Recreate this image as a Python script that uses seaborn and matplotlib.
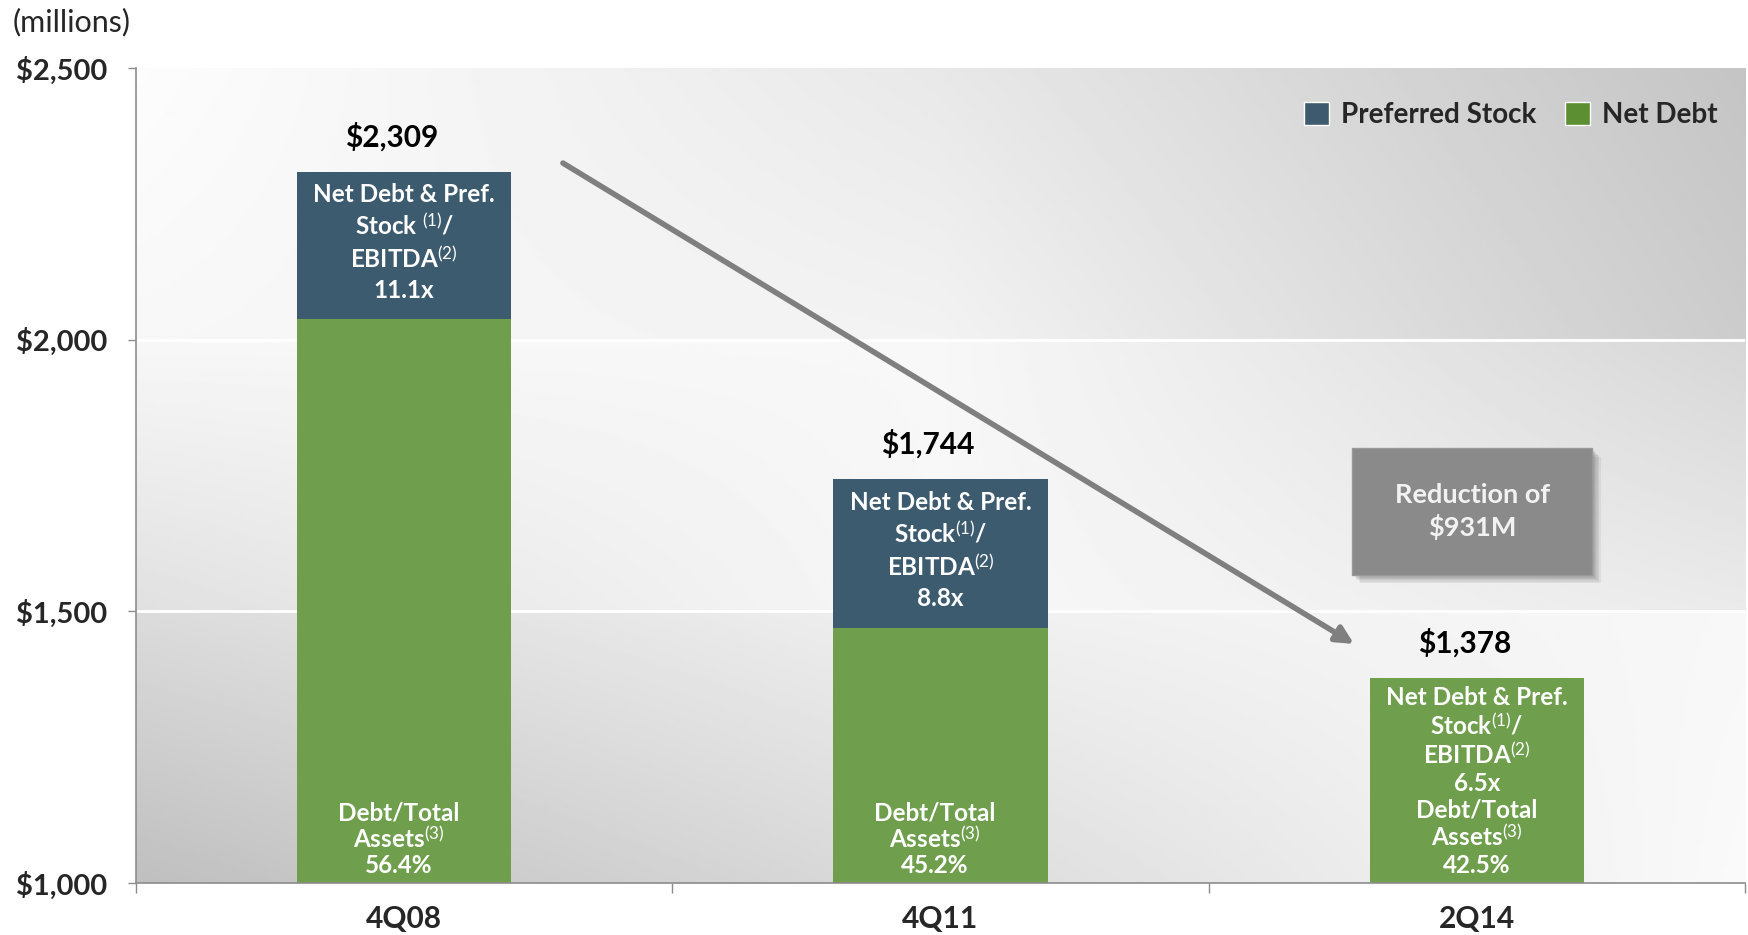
import numpy as np
import pandas as pd
import seaborn as sns
import matplotlib.pyplot as plt
import matplotlib.patheffects as pe
from matplotlib.patches import Patch, FancyArrowPatch, Rectangle

# values (millions)
quarters = ['4Q08', '4Q11', '2Q14']
net_debt = [2038, 1470, 1378]
pref_stock = [271, 274, 0]
ebitda_ratio = ['11.1x', '8.8x', '6.5x']
debt_assets = ['56.4%', '45.2%', '42.5%']
y_ticks = [1000, 1500, 2000, 2500]
y_tick_labels = ['$1,000', '$1,500', '$2,000', '$2,500']
reduction_text = 'Reduction of\n\\$931M'

navy = '#3d5b6f'
green = '#6f9f4c'
legend_navy = '#3d5a6f'
legend_green = '#5b8f32'

sns.set_theme(style='white')
plt.rcParams['font.family'] = ['Lato', 'DejaVu Sans']
plt.rcParams['mathtext.fontset'] = 'custom'
plt.rcParams['mathtext.rm'] = 'Lato'
plt.rcParams['mathtext.it'] = 'Lato:italic'
plt.rcParams['mathtext.bf'] = 'Lato:bold'

df = pd.DataFrame({'quarter': quarters, 'net': net_debt, 'pref': pref_stock})
df['total'] = df['net'] + df['pref']

fig = plt.figure(figsize=(17.48, 9.35), dpi=100)
ax = fig.add_axes([0.0778, 0.0556, 0.9205, 0.8717])

# stacked bars: total in navy, net debt drawn over it in green
sns.barplot(data=df, x='quarter', y='total', color=navy, width=0.4, linewidth=0,
            saturation=1, errorbar=None, ax=ax, zorder=2)
sns.barplot(data=df, x='quarter', y='net', color=green, width=0.4, linewidth=0,
            saturation=1, errorbar=None, ax=ax, zorder=2)

# grey gradient background, one gradient per grid band
# (top edge L/C/R, bottom edge L/C/R)
bands = [
    ([0.86, 0.94, 0.97], [0.75, 0.86, 0.98]),   # 1000-1500
    ([0.97, 0.97, 0.84], [0.88, 0.97, 0.92]),   # 1500-2000
    ([0.99, 0.91, 0.77], [0.97, 0.95, 0.80]),   # 2000-2500
]
nx, ny = 400, 120
u = np.linspace(0, 1, nx)
v = np.linspace(0, 1, ny)[:, None]
rows = []
for top, bot in bands:
    t = np.interp(u, [0, 0.5, 1], top)
    b = np.interp(u, [0, 0.5, 1], bot)
    rows.append((1 - v) * b + v * t)
img = np.vstack(rows)
ax.imshow(img, cmap='gray', vmin=0, vmax=1, origin='lower', aspect='auto',
          extent=(-0.5, 2.5, 1000, 2500), zorder=0, interpolation='bilinear')
for y in [1500, 2000]:
    ax.axhline(y, color='white', lw=2, zorder=1)

ax.set_xlim(-0.5, 2.5)
ax.set_ylim(1000, 2500)

# axes styling
for s in ['top', 'right']:
    ax.spines[s].set_visible(False)
for s in ['left', 'bottom']:
    ax.spines[s].set_color('#8c8c8c')
    ax.spines[s].set_linewidth(1.2)
    ax.spines[s].set_zorder(3)
ax.set_yticks(y_ticks)
ax.set_yticklabels(y_tick_labels, fontsize=21, fontweight='bold')
ax.tick_params(axis='y', left=True, length=6, width=1, color='#8c8c8c', pad=15)
ax.set_xticks(range(len(quarters)))
ax.set_xticklabels(quarters, fontsize=21.5, fontweight='bold')
ax.set_xticks([-0.5, 0.5, 1.5, 2.5], minor=True)
ax.tick_params(axis='x', which='major', length=0, pad=16)
ax.tick_params(axis='x', which='minor', bottom=True, length=7, width=1, color='#8c8c8c')
ax.set_xlabel('')
ax.set_ylabel('')

# value labels above bars
for i, t in enumerate(df['total']):
    ax.annotate(f'${t:,}', (i, t), xytext=(-9, 25), textcoords='offset points',
                ha='center', va='center', fontsize=21.5, fontweight='bold', color='black')

# ratio text inside bars
for i in range(len(quarters)):
    gap = ' ' if i == 0 else ''
    ebitda_txt = ('Net Debt & Pref.\nStock' + gap + r'$^{\mathrm{(1)}}$/' + '\n'
                  + r'EBITDA$^{\mathrm{(2)}}$' + '\n' + ebitda_ratio[i])
    assets_txt = 'Debt/Total\n' + r'Assets$^{\mathrm{(3)}}$' + '\n' + debt_assets[i]
    if pref_stock[i] > 0:
        ax.annotate(ebitda_txt, (i, net_debt[i] + pref_stock[i] / 2), xytext=(0, 2),
                    textcoords='offset points', ha='center', va='center',
                    color='white', fontsize=17.5, fontweight='bold', linespacing=1.33, zorder=3)
        ax.annotate(assets_txt, (i, 1000), xytext=(-4, 4), textcoords='offset points',
                    ha='center', va='bottom', color='white', fontsize=17.5,
                    fontweight='bold', linespacing=1.08, zorder=3)
    else:
        ax.annotate(ebitda_txt + '\n' + assets_txt, (i, 1000), xytext=(0, 4),
                    textcoords='offset points', ha='center', va='bottom', color='white',
                    fontsize=17.5, fontweight='bold', linespacing=1.17, zorder=3)

# trend arrow
arrow = FancyArrowPatch((0.296, 2325), (1.771, 1440), arrowstyle='-|>',
                        mutation_scale=26, lw=4, color='#7f7f7f',
                        shrinkA=0, shrinkB=0, zorder=4,
                        path_effects=[pe.SimplePatchShadow(offset=(2, -2), alpha=0.2),
                                      pe.Normal()])
ax.add_patch(arrow)

# reduction call-out box with a soft shadow
soft = [pe.SimplePatchShadow(offset=(k, -k), alpha=0.07) for k in range(1, 7)]
box = Rectangle((1.767, 1567), 0.448, 233, facecolor='#8a8a8a', edgecolor='#999999',
                lw=1, zorder=4, path_effects=soft + [pe.Normal()])
ax.add_patch(box)
ax.text(1.991, 1684, reduction_text, ha='center', va='center', color='#f2f2f2',
        fontsize=19.5, fontweight='bold', linespacing=1.32, zorder=5)

# legend
handles = [Patch(facecolor=legend_navy, label='Preferred Stock'),
           Patch(facecolor=legend_green, label='Net Debt')]
ax.legend(handles=handles, loc='upper right', bbox_to_anchor=(0.983, 0.958), ncol=2,
          frameon=False, prop={'weight': 'bold', 'size': 20}, handlelength=0.9,
          handleheight=0.9, handletextpad=0.45, columnspacing=1.0,
          borderaxespad=0, borderpad=0)

fig.text(13 / 1748, 1 - 22 / 935, '(millions)', fontsize=22, ha='left', va='center')

fig.savefig('out.png', dpi=100, facecolor='white')
